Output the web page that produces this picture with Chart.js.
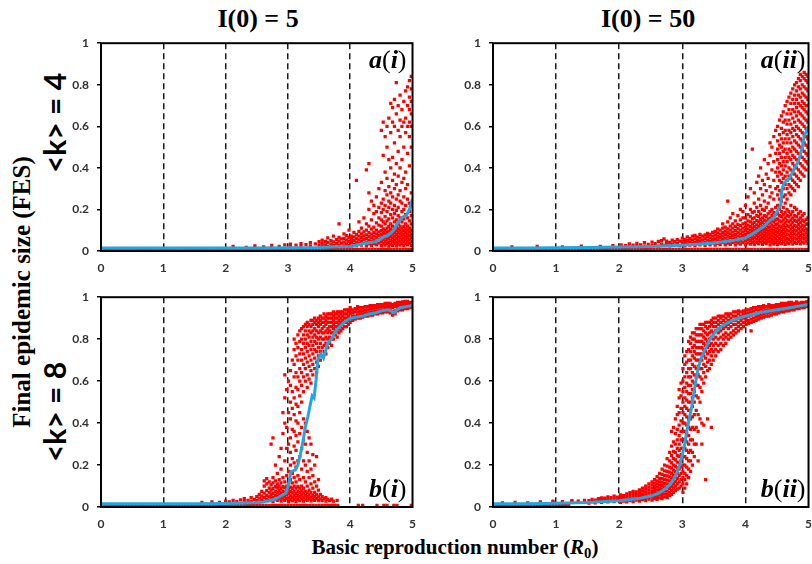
<!DOCTYPE html>
<html>
<head>
<meta charset="utf-8">
<script src="https://cdn.jsdelivr.net/npm/chart.js@4.4.1/dist/chart.umd.min.js"></script>
<style>
  html, body { margin: 0; padding: 0; background: #fff; }
  body { width: 812px; height: 564px; position: relative; overflow: hidden; }
  canvas { position: absolute; }
  .lbl { position: absolute; text-align: center; white-space: nowrap; color: #000; }
  .serif { font-family: "Liberation Serif", "Times New Roman", serif; font-weight: bold; }
  .sans { font-family: Lato, "Open Sans", sans-serif; font-weight: bold; }
  .rot { transform: rotate(-90deg); }
  sub { font-size: 0.7em; vertical-align: -0.25em; line-height: 0; }
</style>
</head>
<body>
<!-- column titles -->
<div class="lbl serif" style="left:158px;top:4px;width:200px;font-size:26px;line-height:30px">I(0) = 5</div>
<div class="lbl serif" style="left:548px;top:4px;width:200px;font-size:26px;line-height:30px">I(0) = 50</div>
<!-- row titles -->
<div class="lbl sans rot" style="left:-21px;top:105px;width:150px;height:36px;font-size:30px;line-height:36px">&lt;k&gt; = 4</div>
<div class="lbl sans rot" style="left:-21px;top:394px;width:150px;height:36px;font-size:30px;line-height:36px">&lt;k&gt; = 8</div>
<!-- axis titles -->
<div class="lbl serif rot" style="left:-138px;top:277px;width:320px;height:30px;font-size:25px;line-height:30px">Final epidemic size (FES)</div>
<div class="lbl serif" style="left:255px;top:533px;width:400px;font-size:21px;line-height:28px">Basic reproduction number (<i>R</i><sub>0</sub>)</div>

<canvas id="cAI"  width="366" height="250" style="left:60px;top:28px"></canvas>
<canvas id="cAII" width="370" height="250" style="left:452px;top:28px"></canvas>
<canvas id="cBI"  width="366" height="252" style="left:60px;top:282px"></canvas>
<canvas id="cBII" width="370" height="252" style="left:452px;top:282px"></canvas>

<script>
// ---------- data ----------
// mean FES curves (blue)
const aiLineX  = [0,0.5,1,1.5,2,2.5,3,3.5,3.8,4.0,4.1,4.2,4.3,4.4,4.5,4.55,4.6,4.65,4.7,4.75,4.8,4.85,4.9,4.95,4.98,5];
const aiLineY  = [0.015,0.015,0.015,0.015,0.015,0.015,0.016,0.017,0.02,0.022,0.028,0.035,0.04,0.045,0.06,0.07,0.075,0.085,0.1,0.13,0.15,0.165,0.17,0.2,0.23,0.25];
const aiiLineX = [0,0.5,1,1.5,2,2.5,3,3.5,3.8,4.0,4.1,4.2,4.3,4.38,4.45,4.52,4.56,4.58,4.62,4.7,4.75,4.8,4.85,4.9,4.93,4.97,5];
const aiiLineY = [0.015,0.015,0.016,0.017,0.019,0.022,0.028,0.038,0.05,0.063,0.08,0.1,0.12,0.145,0.16,0.2,0.22,0.3,0.33,0.35,0.38,0.41,0.44,0.5,0.55,0.58,0.6];
const biLineX  = [0,0.5,1,1.5,2,2.3,2.5,2.6,2.7,2.8,2.9,2.97,3.02,3.05,3.12,3.16,3.2,3.24,3.28,3.32,3.36,3.39,3.42,3.45,3.48,3.53,3.57,3.6,3.64,3.7,3.75,3.8,3.9,4.0,4.1,4.2,4.3,4.4,4.5,4.6,4.65,4.7,4.75,4.8,4.9,5.0];
const biLineY  = [0.015,0.015,0.015,0.016,0.017,0.019,0.021,0.024,0.03,0.038,0.055,0.067,0.12,0.17,0.176,0.2,0.25,0.31,0.38,0.43,0.49,0.53,0.52,0.6,0.7,0.73,0.71,0.74,0.78,0.8,0.83,0.85,0.88,0.9,0.905,0.91,0.92,0.925,0.935,0.94,0.935,0.925,0.94,0.95,0.955,0.96];
const biiLineX = [0,0.5,1,1.5,2,2.3,2.5,2.62,2.7,2.8,2.86,2.91,2.96,3.0,3.04,3.07,3.11,3.15,3.2,3.25,3.3,3.36,3.42,3.49,3.57,3.67,3.8,4.0,4.2,4.4,4.6,4.8,5.0];
const biiLineY = [0.015,0.016,0.018,0.022,0.03,0.04,0.052,0.065,0.08,0.105,0.13,0.16,0.2,0.25,0.3,0.36,0.42,0.48,0.575,0.66,0.71,0.75,0.79,0.82,0.85,0.87,0.89,0.91,0.925,0.935,0.945,0.955,0.965];

// runs that died out (FES ~ 0)
const FLOOR = 0.008;
const floorTop = [0,0.05,0.1,0.15,0.2,0.25,0.3,0.35,0.4,0.45,0.5,0.55,0.6,0.65,0.7,0.75,0.8,0.85,0.9,0.95,1,1.05,1.1,1.15,1.2,1.25,1.3,1.35,1.4,1.45,1.5,1.55,1.6,1.65,1.7,1.75,1.8,1.85,1.9,1.95,2,2.05,2.1,2.15,2.2,2.25,2.3,2.35,2.4,2.45,2.5,2.55,2.6,2.65,2.7,2.75,2.8,2.85,2.9,2.95,3,3.05,3.1,3.15,3.2,3.25,3.3,3.35,3.4,3.45,3.5,3.55,3.6,3.65,3.7,3.75,3.8,3.85,3.9,3.95,4,4.05,4.1,4.15,4.2,4.25,4.3,4.35,4.4,4.45,4.5,4.55,4.6,4.65,4.7,4.75,4.8,4.85,4.9,4.95,5];
const floorBI  = [0,0.05,0.1,0.15,0.2,0.25,0.3,0.35,0.4,0.45,0.5,0.55,0.6,0.65,0.7,0.75,0.8,0.85,0.9,0.95,1,1.05,1.1,1.15,1.2,1.25,1.3,1.35,1.4,1.45,1.5,1.55,1.6,1.65,1.7,1.75,1.8,1.85,1.9,1.95,2,2.05,2.1,2.15,2.2,2.25,2.3,2.35,2.4,2.45,2.5,2.55,2.6,2.65,2.7,2.75,2.8,2.85,2.9,2.95,3,3.05,3.1,3.15,3.2,3.25,3.3,3.35,3.4,3.45,3.5,3.55,3.6,3.65,3.7,3.75,3.8,4.13,4.2,4.43,4.54,4.59,4.7,4.75,4.98];
const floorBII = [0,0.05,0.1,0.15,0.2,0.25,0.3,0.35,0.4,0.45,0.5,0.55,0.6,0.65,0.7,0.75,0.8,0.85,0.9,0.95,1,1.05,1.1,1.15,1.2];

// individual runs, one column per R0: [R0, FES, FES, ...]
const aiRuns = [
  [2.12,0.022],[2.33,0.018],[2.47,0.025],[2.61,0.02],[2.74,0.027],[2.86,0.022],[2.95,0.03],
  [3.04,0.024,0.033],[3.13,0.028],[3.21,0.022,0.036],[3.29,0.031],[3.36,0.025,0.04],[3.44,0.034],[3.5,0.028,0.045],
  [3.55,0.024,0.038,0.052],[3.6,0.03,0.046],[3.64,0.022,0.041,0.063],[3.69,0.033,0.05],[3.73,0.026,0.044,0.071],
  [3.78,0.035,0.055],[3.82,0.028,0.047,0.066,0.13],[3.86,0.038,0.058],[3.9,0.025,0.043,0.061,0.082],
  [3.94,0.034,0.052,0.074],[3.98,0.027,0.046,0.065,0.1],
  [4.02,0.024,0.04,0.056,0.072],[4.06,0.032,0.05,0.068,0.09],[4.1,0.026,0.043,0.061,0.079,0.34],
  [4.14,0.035,0.053,0.071,0.095,0.14],[4.18,0.028,0.046,0.064,0.083,0.11],[4.22,0.037,0.055,0.073,0.092,0.16],
  [4.26,0.025,0.042,0.06,0.078,0.1,0.13,0.39],[4.3,0.034,0.052,0.07,0.088,0.12,0.2,0.28,0.42],
  [4.34,0.027,0.045,0.063,0.081,0.105,0.15,0.24],[4.38,0.036,0.054,0.072,0.09,0.115,0.18,0.22],
  [4.42,0.029,0.047,0.065,0.083,0.1,0.135,0.19,0.26],[4.46,0.038,0.056,0.074,0.092,0.125,0.16,0.21,0.3],
  [4.5,0.026,0.044,0.062,0.08,0.098,0.12,0.15,0.185,0.23,0.33,0.58],
  [4.53,0.035,0.053,0.071,0.089,0.107,0.14,0.2,0.25,0.46,0.62],
  [4.56,0.028,0.046,0.064,0.082,0.1,0.13,0.165,0.22,0.29,0.38,0.55],
  [4.59,0.037,0.055,0.073,0.091,0.11,0.145,0.19,0.27,0.35,0.5,0.6],
  [4.62,0.024,0.042,0.06,0.078,0.096,0.118,0.155,0.21,0.24,0.31,0.44,0.64],
  [4.65,0.033,0.051,0.069,0.087,0.105,0.13,0.175,0.23,0.28,0.4,0.57,0.71],
  [4.68,0.027,0.045,0.063,0.081,0.099,0.12,0.16,0.2,0.26,0.34,0.45,0.62,0.69],
  [4.71,0.036,0.054,0.072,0.09,0.108,0.14,0.18,0.22,0.3,0.37,0.52,0.6,0.73],
  [4.74,0.025,0.043,0.061,0.079,0.097,0.115,0.15,0.195,0.25,0.32,0.42,0.66,0.81],
  [4.77,0.034,0.052,0.07,0.088,0.106,0.13,0.17,0.21,0.27,0.36,0.48,0.58,0.7],
  [4.8,0.028,0.046,0.064,0.082,0.1,0.12,0.16,0.24,0.29,0.4,0.55,0.63,0.75],
  [4.83,0.037,0.055,0.073,0.091,0.11,0.14,0.19,0.23,0.33,0.44,0.6,0.68],
  [4.86,0.026,0.044,0.062,0.08,0.098,0.118,0.155,0.2,0.26,0.35,0.5,0.62,0.72],
  [4.89,0.035,0.053,0.071,0.089,0.107,0.13,0.175,0.22,0.3,0.38,0.57,0.64,0.77],
  [4.92,0.029,0.047,0.065,0.083,0.101,0.12,0.16,0.25,0.32,0.47,0.6,0.7,0.79],
  [4.95,0.038,0.056,0.074,0.092,0.11,0.145,0.19,0.23,0.41,0.55,0.62,0.68,0.74,0.82],
  [4.98,0.027,0.045,0.063,0.081,0.099,0.13,0.17,0.28,0.5,0.6,0.66,0.72,0.78,0.84]
];
const aiiRuns = [
  [0.3,0.02],[0.7,0.022],[1.1,0.02],[1.4,0.024],[1.7,0.022],[1.9,0.026],
  [2.03,0.022,0.03],[2.1,0.026],[2.16,0.02,0.034],[2.22,0.028],[2.28,0.022,0.037],[2.34,0.03],[2.4,0.024,0.04],
  [2.46,0.032],[2.52,0.026,0.043],[2.57,0.035],[2.62,0.024,0.046],[2.67,0.033,0.05],[2.71,0.027,0.058],
  [2.75,0.036,0.048],[2.8,0.025,0.042],[2.84,0.034,0.052],[2.88,0.028,0.045],[2.92,0.037,0.055],[2.96,0.026,0.048],
  [3.0,0.03,0.045,0.062],[3.04,0.025,0.04,0.056],[3.08,0.034,0.05,0.068],[3.12,0.028,0.044,0.06],
  [3.16,0.037,0.053,0.072],[3.2,0.026,0.042,0.058,0.075],[3.24,0.035,0.051,0.067],[3.28,0.029,0.045,0.062,0.08],
  [3.32,0.038,0.054,0.071],[3.36,0.027,0.043,0.06,0.077],[3.4,0.036,0.052,0.069,0.085],[3.44,0.03,0.046,0.063,0.08],
  [3.48,0.039,0.055,0.072,0.09],
  [3.52,0.028,0.044,0.06,0.077,0.094],[3.56,0.037,0.053,0.07,0.087,0.105],[3.6,0.031,0.047,0.064,0.081,0.1],
  [3.64,0.04,0.056,0.073,0.09,0.11,0.13],[3.68,0.029,0.045,0.062,0.079,0.096,0.115],
  [3.72,0.038,0.054,0.071,0.088,0.107,0.14,0.24],[3.76,0.032,0.048,0.065,0.082,0.1,0.12,0.16],
  [3.8,0.041,0.057,0.074,0.091,0.11,0.13,0.18],[3.84,0.03,0.046,0.063,0.08,0.098,0.118,0.145],
  [3.88,0.039,0.055,0.072,0.089,0.108,0.128,0.17],[3.92,0.033,0.049,0.066,0.083,0.101,0.122,0.15,0.2],
  [3.96,0.042,0.058,0.075,0.092,0.11,0.13,0.16,0.19],
  [4.0,0.03,0.047,0.064,0.081,0.098,0.116,0.135,0.16,0.22],
  [4.04,0.039,0.056,0.073,0.09,0.107,0.125,0.145,0.175,0.26],
  [4.08,0.033,0.05,0.067,0.084,0.101,0.119,0.14,0.165,0.2,0.3],
  [4.11,0.042,0.059,0.076,0.093,0.11,0.13,0.155,0.185,0.49],
  [4.14,0.031,0.048,0.065,0.082,0.099,0.117,0.137,0.16,0.19,0.23,0.28],
  [4.18,0.04,0.057,0.074,0.091,0.108,0.126,0.146,0.17,0.21,0.33],
  [4.21,0.034,0.051,0.068,0.085,0.102,0.12,0.14,0.165,0.19,0.25,0.36],
  [4.24,0.043,0.06,0.077,0.094,0.111,0.13,0.152,0.178,0.22,0.3,0.4],
  [4.27,0.032,0.049,0.066,0.083,0.1,0.118,0.138,0.16,0.2,0.27,0.34],
  [4.3,0.041,0.058,0.075,0.092,0.109,0.127,0.148,0.172,0.195,0.24,0.32,0.44],
  [4.33,0.035,0.052,0.069,0.086,0.103,0.121,0.142,0.165,0.21,0.29,0.37],
  [4.36,0.044,0.061,0.078,0.095,0.112,0.13,0.153,0.18,0.23,0.35,0.42],
  [4.39,0.03,0.047,0.064,0.081,0.098,0.116,0.136,0.158,0.19,0.26,0.31,0.46,0.52],
  [4.42,0.039,0.056,0.073,0.09,0.107,0.125,0.146,0.17,0.2,0.28,0.39,0.5],
  [4.45,0.033,0.05,0.067,0.084,0.101,0.119,0.14,0.163,0.185,0.25,0.34,0.43,0.55],
  [4.48,0.042,0.059,0.076,0.093,0.11,0.128,0.15,0.175,0.21,0.3,0.38,0.47,0.58],
  [4.51,0.031,0.05,0.07,0.09,0.11,0.13,0.155,0.18,0.22,0.27,0.31,0.36,0.4,0.44,0.49,0.53,0.6],
  [4.54,0.04,0.06,0.08,0.1,0.12,0.145,0.17,0.2,0.25,0.29,0.34,0.38,0.42,0.47,0.51,0.56,0.63],
  [4.57,0.035,0.055,0.075,0.095,0.115,0.14,0.165,0.19,0.24,0.28,0.33,0.37,0.41,0.45,0.5,0.54,0.59,0.65],
  [4.6,0.044,0.064,0.084,0.104,0.125,0.15,0.175,0.21,0.26,0.3,0.35,0.39,0.43,0.48,0.52,0.57,0.62,0.67],
  [4.63,0.032,0.052,0.072,0.092,0.112,0.135,0.16,0.185,0.23,0.27,0.32,0.36,0.41,0.45,0.49,0.54,0.58,0.63,0.7],
  [4.66,0.041,0.061,0.081,0.101,0.122,0.146,0.17,0.2,0.25,0.3,0.34,0.38,0.43,0.47,0.52,0.56,0.61,0.66,0.72],
  [4.69,0.036,0.056,0.076,0.096,0.117,0.14,0.165,0.19,0.28,0.32,0.36,0.4,0.45,0.49,0.54,0.58,0.63,0.68,0.74],
  [4.72,0.045,0.065,0.085,0.105,0.126,0.15,0.175,0.22,0.27,0.31,0.35,0.39,0.44,0.48,0.52,0.57,0.61,0.66,0.71,0.76],
  [4.75,0.033,0.053,0.073,0.093,0.114,0.137,0.16,0.19,0.3,0.34,0.38,0.42,0.46,0.5,0.55,0.59,0.64,0.68,0.73,0.78],
  [4.78,0.042,0.062,0.082,0.102,0.123,0.147,0.17,0.21,0.29,0.33,0.37,0.41,0.45,0.49,0.53,0.58,0.62,0.67,0.71,0.75,0.8],
  [4.81,0.037,0.057,0.077,0.097,0.118,0.142,0.165,0.2,0.32,0.36,0.4,0.44,0.48,0.52,0.56,0.6,0.65,0.69,0.73,0.77,0.81],
  [4.84,0.046,0.066,0.086,0.106,0.127,0.15,0.18,0.31,0.35,0.39,0.43,0.47,0.51,0.55,0.59,0.63,0.67,0.71,0.75,0.79,0.83],
  [4.87,0.034,0.054,0.074,0.094,0.115,0.138,0.16,0.19,0.34,0.38,0.42,0.46,0.5,0.54,0.58,0.62,0.66,0.7,0.74,0.78,0.82,0.85],
  [4.9,0.043,0.063,0.083,0.103,0.124,0.148,0.17,0.37,0.41,0.45,0.49,0.53,0.57,0.61,0.65,0.69,0.72,0.76,0.8,0.84],
  [4.93,0.038,0.058,0.078,0.098,0.119,0.143,0.18,0.36,0.4,0.44,0.48,0.52,0.56,0.6,0.64,0.68,0.71,0.75,0.79,0.83,0.86],
  [4.96,0.047,0.067,0.087,0.107,0.128,0.152,0.39,0.43,0.47,0.51,0.55,0.59,0.63,0.67,0.7,0.74,0.78,0.82,0.85],
  [4.99,0.035,0.055,0.075,0.1,0.13,0.16,0.42,0.46,0.5,0.54,0.58,0.62,0.66,0.7,0.73,0.77,0.81,0.84]
];
const biRuns = [
  [1.62,0.022],[1.78,0.025],[1.9,0.022],[2.0,0.028],[2.06,0.024],[2.12,0.031],[2.18,0.026],[2.24,0.034],
  [2.3,0.028,0.04],[2.36,0.032],[2.41,0.026,0.045],[2.46,0.036],[2.5,0.03,0.05],
  [2.54,0.025,0.042,0.06],[2.58,0.034,0.052,0.075],[2.62,0.028,0.046,0.066,0.1,0.125],[2.66,0.037,0.055,0.078,0.11,0.135],
  [2.7,0.03,0.048,0.068,0.09,0.12],[2.73,0.04,0.058,0.08,0.105,0.3],[2.76,0.027,0.045,0.065,0.088,0.115,0.14,0.33],
  [2.8,0.036,0.054,0.074,0.097,0.125,0.2],[2.83,0.031,0.049,0.069,0.092,0.11,0.16],[2.86,0.04,0.058,0.078,0.1,0.13,0.24],
  [2.89,0.028,0.046,0.066,0.088,0.115,0.18,0.28],[2.92,0.037,0.055,0.075,0.097,0.14,0.35,0.45],
  [2.95,0.032,0.05,0.07,0.092,0.12,0.22,0.4,0.52,0.63],[2.98,0.041,0.059,0.079,0.1,0.15,0.28,0.38,0.56],
  [3.01,0.026,0.044,0.064,0.086,0.11,0.17,0.3,0.45,0.6],
  [3.04,0.035,0.053,0.073,0.095,0.13,0.2,0.26,0.33,0.42,0.5,0.58,0.65],
  [3.07,0.029,0.047,0.067,0.089,0.115,0.16,0.23,0.37,0.47,0.55,0.7],
  [3.1,0.038,0.056,0.076,0.1,0.14,0.21,0.29,0.36,0.44,0.52,0.62,0.68,0.75,0.8],
  [3.13,0.027,0.045,0.065,0.09,0.12,0.19,0.27,0.34,0.41,0.49,0.57,0.64,0.72,0.78],
  [3.16,0.036,0.054,0.074,0.098,0.15,0.22,0.31,0.4,0.48,0.56,0.62,0.7,0.76,0.82],
  [3.19,0.03,0.048,0.068,0.09,0.13,0.24,0.35,0.45,0.53,0.6,0.66,0.73,0.79,0.84],
  [3.22,0.039,0.057,0.077,0.1,0.18,0.28,0.38,0.5,0.58,0.64,0.7,0.75,0.8,0.85],
  [3.25,0.028,0.046,0.066,0.09,0.14,0.22,0.32,0.42,0.55,0.62,0.68,0.73,0.78,0.82,0.86],
  [3.28,0.037,0.055,0.075,0.12,0.2,0.3,0.4,0.6,0.66,0.71,0.76,0.8,0.84,0.87],
  [3.31,0.031,0.049,0.07,0.1,0.17,0.26,0.36,0.57,0.63,0.69,0.74,0.78,0.82,0.86,0.88],
  [3.34,0.04,0.058,0.08,0.14,0.22,0.33,0.61,0.67,0.72,0.77,0.81,0.84,0.87],
  [3.37,0.029,0.047,0.068,0.11,0.18,0.3,0.59,0.65,0.7,0.75,0.79,0.83,0.86,0.89],
  [3.4,0.038,0.056,0.09,0.15,0.25,0.63,0.68,0.73,0.77,0.81,0.84,0.87,0.89],
  [3.43,0.032,0.05,0.07,0.12,0.2,0.66,0.71,0.75,0.79,0.82,0.85,0.88,0.9],
  [3.46,0.041,0.06,0.1,0.24,0.64,0.69,0.74,0.78,0.81,0.84,0.87,0.89],
  [3.49,0.03,0.048,0.08,0.13,0.67,0.72,0.76,0.8,0.83,0.86,0.88,0.9],
  [3.52,0.039,0.06,0.7,0.74,0.78,0.81,0.84,0.87,0.89,0.91],[3.55,0.03,0.05,0.72,0.76,0.8,0.83,0.85,0.88,0.9],
  [3.58,0.04,0.74,0.77,0.8,0.83,0.86,0.88,0.9,0.92],[3.61,0.028,0.045,0.73,0.78,0.81,0.84,0.87,0.89,0.91],
  [3.64,0.036,0.76,0.8,0.83,0.85,0.88,0.9,0.92],[3.67,0.03,0.78,0.81,0.84,0.86,0.88,0.9,0.92],
  [3.7,0.038,0.77,0.8,0.83,0.86,0.88,0.9,0.92],[3.73,0.028,0.8,0.83,0.85,0.87,0.89,0.91,0.93],
  [3.76,0.82,0.84,0.86,0.88,0.9,0.92],[3.79,0.032,0.81,0.84,0.86,0.88,0.9,0.92,0.93],
  [3.82,0.83,0.85,0.87,0.89,0.91,0.93],[3.85,0.84,0.86,0.88,0.9,0.92,0.93],[3.88,0.85,0.87,0.89,0.91,0.93],
  [3.91,0.86,0.88,0.9,0.92,0.94],[3.94,0.86,0.88,0.9,0.92,0.94],[3.97,0.87,0.89,0.91,0.93,0.94],
  [4.0,0.88,0.9,0.92,0.935,0.95],[4.04,0.89,0.91,0.925,0.94],[4.08,0.895,0.91,0.93,0.945],[4.12,0.9,0.915,0.93,0.945,0.955],
  [4.16,0.9,0.92,0.935,0.95],[4.2,0.905,0.92,0.935,0.95],[4.24,0.91,0.925,0.94,0.955],[4.28,0.91,0.925,0.94,0.955],
  [4.32,0.915,0.93,0.945,0.96],[4.36,0.915,0.93,0.945,0.96],[4.4,0.92,0.935,0.95,0.96],[4.44,0.92,0.935,0.95,0.965],
  [4.48,0.925,0.94,0.955,0.965],[4.52,0.925,0.94,0.955,0.965],[4.56,0.93,0.945,0.96,0.97],[4.6,0.93,0.945,0.96,0.97],
  [4.64,0.925,0.94,0.955,0.97],[4.68,0.915,0.93,0.95,0.965],[4.72,0.92,0.935,0.955,0.97],[4.76,0.935,0.95,0.965,0.975],
  [4.8,0.94,0.955,0.965,0.975],[4.84,0.94,0.955,0.97,0.978],[4.88,0.945,0.96,0.97,0.98],[4.92,0.945,0.96,0.972,0.98],
  [4.96,0.95,0.962,0.975],[5.0,0.955,0.965,0.975]
];
const biiRuns = [
  [0.15,0.02],[0.35,0.022],[0.55,0.02],[0.75,0.024],[0.95,0.022,0.028],[1.1,0.026],[1.25,0.024,0.03],[1.35,0.028],[1.45,0.022,0.032],
  [1.52,0.018,0.03],[1.57,0.026,0.036],[1.62,0.02,0.033],[1.67,0.028,0.04],[1.72,0.022,0.035,0.044],[1.77,0.03,0.042],
  [1.82,0.024,0.037,0.048],[1.87,0.032,0.045],[1.92,0.026,0.039,0.052],[1.97,0.034,0.047],
  [2.02,0.022,0.035,0.048,0.058],[2.07,0.028,0.041,0.054],[2.12,0.024,0.037,0.05,0.063],[2.17,0.03,0.043,0.057,0.068],
  [2.22,0.026,0.039,0.052,0.065,0.075],[2.27,0.033,0.046,0.06,0.072],[2.32,0.028,0.041,0.055,0.068,0.082],
  [2.37,0.035,0.049,0.063,0.077,0.09],[2.42,0.03,0.044,0.058,0.072,0.086,0.1],[2.47,0.038,0.052,0.066,0.08,0.095,0.11],
  [2.52,0.033,0.047,0.061,0.075,0.09,0.105,0.12],[2.56,0.04,0.054,0.068,0.083,0.098,0.114,0.13],
  [2.6,0.036,0.05,0.065,0.08,0.095,0.11,0.125,0.145],[2.64,0.044,0.058,0.073,0.088,0.104,0.12,0.137,0.16],
  [2.68,0.04,0.055,0.07,0.086,0.102,0.118,0.135,0.155,0.18],[2.72,0.048,0.063,0.079,0.095,0.112,0.13,0.15,0.172,0.2],
  [2.76,0.045,0.06,0.076,0.093,0.11,0.128,0.148,0.17,0.195,0.23],[2.8,0.055,0.07,0.087,0.105,0.124,0.144,0.166,0.19,0.22,0.26],
  [2.83,0.06,0.078,0.097,0.117,0.138,0.16,0.185,0.21,0.245,0.29,0.36],
  [2.86,0.07,0.09,0.11,0.13,0.152,0.176,0.2,0.23,0.265,0.31,0.38],
  [2.89,0.078,0.1,0.122,0.145,0.17,0.195,0.225,0.26,0.3,0.35,0.42],
  [2.92,0.085,0.11,0.135,0.16,0.186,0.214,0.245,0.28,0.32,0.37,0.44,0.48],
  [2.95,0.09,0.12,0.15,0.18,0.21,0.24,0.27,0.3,0.34,0.39,0.45,0.52,0.56],
  [2.98,0.1,0.13,0.16,0.19,0.22,0.25,0.28,0.32,0.36,0.41,0.47,0.53,0.59],
  [3.01,0.07,0.11,0.14,0.17,0.2,0.24,0.28,0.32,0.36,0.4,0.45,0.5,0.55,0.6,0.66],
  [3.04,0.09,0.13,0.16,0.2,0.24,0.28,0.32,0.36,0.4,0.44,0.48,0.52,0.57,0.62,0.68,0.72],
  [3.07,0.11,0.15,0.19,0.23,0.27,0.31,0.35,0.39,0.43,0.47,0.51,0.55,0.59,0.64,0.69,0.74],
  [3.1,0.14,0.18,0.22,0.26,0.3,0.34,0.38,0.42,0.46,0.5,0.54,0.58,0.62,0.66,0.7,0.75,0.79],
  [3.13,0.17,0.22,0.27,0.32,0.37,0.42,0.46,0.5,0.54,0.58,0.62,0.66,0.7,0.74,0.78,0.81],
  [3.16,0.2,0.26,0.32,0.38,0.43,0.48,0.52,0.56,0.6,0.64,0.68,0.72,0.76,0.8,0.83],
  [3.19,0.24,0.3,0.37,0.44,0.5,0.55,0.59,0.63,0.67,0.71,0.74,0.77,0.8,0.83],
  [3.22,0.3,0.38,0.46,0.53,0.58,0.62,0.66,0.7,0.73,0.76,0.79,0.82,0.85],
  [3.25,0.22,0.36,0.44,0.52,0.58,0.63,0.67,0.7,0.73,0.76,0.79,0.82,0.85],
  [3.28,0.42,0.5,0.57,0.62,0.66,0.7,0.73,0.76,0.79,0.82,0.85,0.87],
  [3.31,0.3,0.4,0.55,0.61,0.66,0.7,0.73,0.76,0.79,0.82,0.85,0.87],
  [3.34,0.39,0.59,0.64,0.68,0.72,0.75,0.78,0.81,0.84,0.87],
  [3.37,0.13,0.62,0.67,0.71,0.74,0.77,0.8,0.83,0.86,0.88],
  [3.4,0.42,0.65,0.69,0.73,0.76,0.79,0.82,0.85,0.88],
  [3.43,0.66,0.7,0.74,0.77,0.8,0.83,0.86,0.88],
  [3.46,0.38,0.68,0.72,0.75,0.78,0.81,0.84,0.87,0.89],
  [3.49,0.7,0.74,0.77,0.8,0.83,0.86,0.88,0.9],
  [3.53,0.72,0.75,0.78,0.81,0.84,0.86,0.88,0.9],[3.57,0.74,0.77,0.8,0.83,0.85,0.87,0.89,0.91],
  [3.61,0.75,0.78,0.81,0.84,0.86,0.88,0.9,0.91],[3.65,0.77,0.8,0.82,0.85,0.87,0.89,0.91],
  [3.69,0.78,0.81,0.83,0.86,0.88,0.9,0.92],[3.73,0.8,0.82,0.85,0.87,0.89,0.91,0.92],
  [3.77,0.81,0.83,0.86,0.88,0.9,0.92],[3.81,0.82,0.84,0.87,0.89,0.91,0.93],[3.85,0.83,0.85,0.87,0.89,0.91,0.93],
  [3.89,0.84,0.86,0.88,0.9,0.92,0.935],[3.93,0.85,0.87,0.89,0.91,0.93],[3.97,0.86,0.88,0.9,0.92,0.935],
  [4.01,0.87,0.89,0.905,0.92,0.94],[4.05,0.875,0.89,0.91,0.925,0.94],[4.09,0.84,0.88,0.895,0.915,0.93,0.945],
  [4.13,0.885,0.9,0.92,0.935,0.95],[4.17,0.89,0.905,0.92,0.94,0.95],[4.21,0.895,0.91,0.925,0.94,0.955],
  [4.25,0.9,0.915,0.93,0.945,0.955],[4.29,0.905,0.92,0.935,0.95,0.96],[4.33,0.91,0.925,0.94,0.955],
  [4.37,0.91,0.925,0.94,0.955,0.965],[4.41,0.915,0.93,0.945,0.96],[4.45,0.92,0.935,0.95,0.96],
  [4.49,0.92,0.935,0.95,0.965],[4.53,0.925,0.94,0.955,0.965],[4.57,0.93,0.94,0.955,0.97],[4.61,0.93,0.945,0.96,0.97],
  [4.65,0.935,0.95,0.96,0.97],[4.69,0.935,0.95,0.965,0.975],[4.73,0.94,0.955,0.965,0.975],[4.77,0.94,0.955,0.97],
  [4.81,0.945,0.96,0.97,0.978],[4.85,0.945,0.96,0.972],[4.89,0.95,0.962,0.975],[4.93,0.95,0.965,0.975],
  [4.97,0.955,0.967,0.978],[5.0,0.96,0.97,0.98]
];

const xTicks = [0, 1, 2, 3, 4, 5];
const yTicks = [0, 0.2, 0.4, 0.6, 0.8, 1];

// ---------- helpers ----------
const RED = "#ff0000";
const BLUE = "#1fa7e1";
const TICK_FONT = { family: "Lato", size: 12, weight: "bold" };

function toLine(xs, ys) { return xs.map((x, i) => ({ x, y: ys[i] })); }
function toPoints(floor, runs) {
  const pts = floor.map(x => ({ x, y: FLOOR }));
  runs.forEach(c => c.slice(1).forEach(y => pts.push({ x: c[0], y })));
  return pts;
}

// frame round the plot area + panel tag like a(i)
const framePlugin = {
  id: "frame",
  afterDatasetsDraw(chart, args, opts) {
    const { ctx, chartArea: a } = chart;
    ctx.save();
    ctx.strokeStyle = "#000";
    ctx.lineWidth = 2;
    ctx.strokeRect(a.left, a.top, a.right - a.left, a.bottom - a.top);
    let w = 0;
    opts.parts.forEach(p => { ctx.font = p[1]; w += ctx.measureText(p[0]).width; });
    let x = a.right - opts.dx - w;
    const y = opts.top ? a.top + opts.dy : a.bottom - opts.dy;
    ctx.fillStyle = "#000";
    ctx.textBaseline = "alphabetic";
    opts.parts.forEach(p => {
      ctx.font = p[1];
      ctx.fillText(p[0], x, y);
      x += ctx.measureText(p[0]).width;
    });
    ctx.restore();
  }
};

const IT = 'italic bold 26px "Liberation Serif"';
const UP = '26px "Liberation Serif"';

function makeChart(id, line, pts, padRight, tag) {
  return new Chart(document.getElementById(id), {
    type: "scatter",
    data: {
      datasets: [
        { data: line, showLine: true, borderColor: BLUE, borderWidth: 3, pointRadius: 0, fill: false },
        { data: pts, pointStyle: "rect", pointRadius: 2.3, backgroundColor: RED, borderWidth: 0 }
      ]
    },
    options: {
      responsive: false,
      animation: false,
      devicePixelRatio: 1,
      layout: { padding: { top: 10, right: padRight, left: 0, bottom: 0 } },
      plugins: { legend: { display: false }, tooltip: { enabled: false }, frame: tag },
      scales: {
        x: {
          type: "linear", min: 0, max: 5,
          afterFit: s => { s.height = 27; },
          afterBuildTicks: s => { s.ticks = xTicks.map(v => ({ value: v })); },
          ticks: { padding: 10, color: "#333", font: TICK_FONT, maxRotation: 0 },
          grid: {
            color: c => (c.tick && c.tick.value > 0 && c.tick.value < 5) ? "#1a1a1a" : "rgba(0,0,0,0)",
            lineWidth: 1.5, drawTicks: false
          },
          border: { display: false, dash: [6, 4] }
        },
        y: {
          min: 0, max: 1,
          afterFit: s => { s.width = 41; },
          afterBuildTicks: s => { s.ticks = yTicks.map(v => ({ value: v })); },
          ticks: { padding: 8, color: "#333", font: TICK_FONT, callback: v => String(+v.toFixed(1)) },
          grid: { drawOnChartArea: false, drawTicks: true, tickLength: 4, color: "#000", lineWidth: 1.5 },
          border: { display: false }
        }
      }
    },
    plugins: [framePlugin]
  });
}

makeChart("cAI",  toLine(aiLineX, aiLineY),   toPoints(floorTop, aiRuns),  6,
  { parts: [["a", IT], ["(", UP], ["i", IT], [")", UP]], dx: 6, dy: 25, top: true });
makeChart("cAII", toLine(aiiLineX, aiiLineY), toPoints(floorTop, aiiRuns), 13,
  { parts: [["a", IT], ["(", UP], ["ii", IT], [")", UP]], dx: 3, dy: 25, top: true });
makeChart("cBI",  toLine(biLineX, biLineY),   toPoints(floorBI, biRuns),   6,
  { parts: [["b", IT], ["(", UP], ["i", IT], [")", UP]], dx: 6, dy: 10, top: false });
makeChart("cBII", toLine(biiLineX, biiLineY), toPoints(floorBII, biiRuns), 13,
  { parts: [["b", IT], ["(", UP], ["ii", IT], [")", UP]], dx: 3, dy: 10, top: false });
</script>
</body>
</html>
